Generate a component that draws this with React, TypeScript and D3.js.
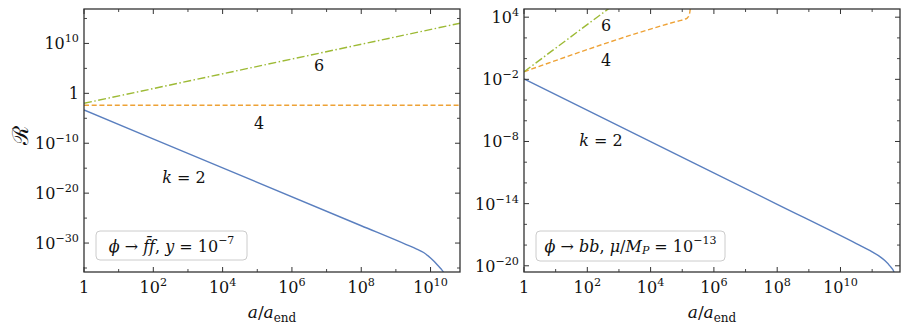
import React from "react";
import * as d3 from "d3";

// ---- data (log10 values) ----
// Left panel: phi -> f fbar, y = 1e-7
const leftK2LogA = [0, 4, 8, 9.3, 9.6, 9.8, 10.0, 10.1, 10.2, 10.3, 10.37, 10.42];
const leftK2LogR = [-3.33, -14.93, -26.53, -30.3, -31.2, -31.9, -33.0, -33.65, -34.4, -35.15, -35.8, -36.5];
const leftK4LogA = [0, 10.85];
const leftK4LogR = [-2.38, -2.38];
const leftK6LogA = [0, 10.85];
const leftK6LogR = [-2.0, 14.05];

// Right panel: phi -> bb, mu/M_P = 1e-13
const rightK2LogA = [0, 4, 8, 10.5, 11.0, 11.2, 11.4, 11.55, 11.69, 11.73];
const rightK2LogR = [-1.95, -8.01, -14.07, -17.86, -18.65, -19.02, -19.5, -19.98, -20.6, -21.0];
const rightK4LogA = [0, 4.9, 5.08, 5.16, 5.21, 5.24, 5.26];
const rightK4LogR = [-1.27, 3.65, 3.8, 3.93, 4.15, 4.5, 5.0];
const rightK6LogA = [0, 3.0];
const rightK6LogR = [-1.27, 5.57];

// axes
const leftXDomain = [0, 10.85];
const leftYDomain = [-35.8, 16.9];
const rightXDomain = [0, 11.88];
const rightYDomain = [-20.6, 4.79];
const leftXMajor = [0, 2, 4, 6, 8, 10];
const leftXMinor = [1, 3, 5, 7, 9];
const leftYMajor = [10, 0, -10, -20, -30];
const leftYMinor = [15, 5, -5, -15, -25, -35];
const rightXMajor = [0, 2, 4, 6, 8, 10];
const rightXMinor = [1, 3, 5, 7, 9, 11];
const rightYMajor = [4, -2, -8, -14, -20];
const rightYMinor = [2, 0, -4, -6, -10, -12, -16, -18];

const BLUE = "#5a7fbf";
const ORANGE = "#eea236";
const GREEN = "#9dba35";
const FONT = "DejaVu Serif";

type Series = { la: number[]; lr: number[]; color: string; dash?: string };

function Pow({ e, x, y, anchor, size = 16 }: { e: number; x: number; y: number; anchor: string; size?: number }) {
  if (e === 0)
    return (
      <text x={x} y={y} textAnchor={anchor} style={{ fontSize: size, fontFamily: FONT }} fill="#111">
        1
      </text>
    );
  const s = e < 0 ? "\u2212" + Math.abs(e) : String(e);
  return (
    <text x={x} y={y} textAnchor={anchor} style={{ fontSize: size, fontFamily: FONT }} fill="#111">
      10
      <tspan dy={-7} style={{ fontSize: size * 0.7 }}>
        {s}
      </tspan>
    </text>
  );
}

function Panel(props: {
  id: string;
  x0: number;
  x1: number;
  y0: number;
  y1: number;
  xDom: number[];
  yDom: number[];
  xMaj: number[];
  xMin: number[];
  yMaj: number[];
  yMin: number[];
  series: Series[];
  children?: React.ReactNode;
}) {
  const { id, x0, x1, y0, y1 } = props;
  const xs = d3.scaleLog().domain(props.xDom.map((v) => Math.pow(10, v))).range([x0, x1]);
  const ys = d3.scaleLog().domain(props.yDom.map((v) => Math.pow(10, v))).range([y1, y0]);
  const line = d3
    .line<[number, number]>()
    .x((d) => xs(Math.pow(10, d[0])))
    .y((d) => ys(Math.pow(10, d[1])))
    .curve(d3.curveMonotoneX);
  const tk = "#333";
  const maj = 5;
  const mn = 3;
  return (
    <g>
      <defs>
        <clipPath id={id}>
          <rect x={x0} y={y0} width={x1 - x0} height={y1 - y0} />
        </clipPath>
      </defs>
      <g clipPath={`url(#${id})`}>
        {props.series.map((s, i) => (
          <path
            key={i}
            d={line(s.la.map((a, j) => [a, s.lr[j]] as [number, number])) || ""}
            fill="none"
            stroke={s.color}
            strokeWidth={1.4}
            strokeDasharray={s.dash}
          />
        ))}
      </g>
      {props.children}
      {props.xMaj.map((v) => {
        const px = xs(Math.pow(10, v));
        return (
          <g key={"xM" + v}>
            <line x1={px} x2={px} y1={y1} y2={y1 - maj} stroke={tk} strokeWidth={1} />
            <line x1={px} x2={px} y1={y0} y2={y0 + maj} stroke={tk} strokeWidth={1} />
            <Pow e={v} x={px} y={293} anchor="middle" />
          </g>
        );
      })}
      {props.xMin.map((v) => {
        const px = xs(Math.pow(10, v));
        return (
          <g key={"xm" + v}>
            <line x1={px} x2={px} y1={y1} y2={y1 - mn} stroke={tk} strokeWidth={0.9} />
            <line x1={px} x2={px} y1={y0} y2={y0 + mn} stroke={tk} strokeWidth={0.9} />
          </g>
        );
      })}
      {props.yMaj.map((v) => {
        const py = ys(Math.pow(10, v));
        return (
          <g key={"yM" + v}>
            <line x1={x0} x2={x0 + maj} y1={py} y2={py} stroke={tk} strokeWidth={1} />
            <line x1={x1} x2={x1 - maj} y1={py} y2={py} stroke={tk} strokeWidth={1} />
            <Pow e={v} x={x0 - 5} y={py + 6} anchor="end" />
          </g>
        );
      })}
      {props.yMin.map((v) => {
        const py = ys(Math.pow(10, v));
        return (
          <g key={"ym" + v}>
            <line x1={x0} x2={x0 + mn} y1={py} y2={py} stroke={tk} strokeWidth={0.9} />
            <line x1={x1} x2={x1 - mn} y1={py} y2={py} stroke={tk} strokeWidth={0.9} />
          </g>
        );
      })}
      <rect x={x0} y={y0} width={x1 - x0} height={y1 - y0} fill="none" stroke={tk} strokeWidth={1.3} />
      <text x={(x0 + x1) / 2} y={318} textAnchor="middle" style={{ fontSize: 17, fontFamily: FONT }} fill="#111">
        <tspan fontStyle="italic">a</tspan>/<tspan fontStyle="italic">a</tspan>
        <tspan dy={4} style={{ fontSize: 12 }}>
          end
        </tspan>
      </text>
    </g>
  );
}

function Label({ x, y, children, size = 16 }: { x: number; y: number; children: React.ReactNode; size?: number }) {
  return (
    <text
      x={x}
      y={y}
      textAnchor="middle"
      dominantBaseline="central"
      style={{ fontSize: size, fontFamily: FONT }}
      fill="#111"
    >
      {children}
    </text>
  );
}

export default function App() {
  return (
    <svg width={909} height={333} style={{ position: "absolute", left: 0, top: 0, background: "#fff" }}>
      <rect width={909} height={333} fill="#fff" />
      <Panel
        id="cl"
        x0={84}
        x1={460}
        y0={9}
        y1={272}
        xDom={leftXDomain}
        yDom={leftYDomain}
        xMaj={leftXMajor}
        xMin={leftXMinor}
        yMaj={leftYMajor}
        yMin={leftYMinor}
        series={[
          { la: leftK2LogA, lr: leftK2LogR, color: BLUE },
          { la: leftK4LogA, lr: leftK4LogR, color: ORANGE, dash: "5,2.7" },
          { la: leftK6LogA, lr: leftK6LogR, color: GREEN, dash: "8,2.5,1.5,2.5" },
        ]}
      >
        <Label x={319} y={65}>6</Label>
        <Label x={259} y={123}>4</Label>
        <Label x={184} y={177}>
          <tspan fontStyle="italic">k</tspan> = 2
        </Label>
        <rect x={96} y={231} width={151} height={29} rx={4} fill="#fff" stroke="#ccc" strokeWidth={1} />
        <Label x={171.5} y={246} size={16}>
          <tspan fontStyle="italic">ϕ</tspan>
          {" → "}
          <tspan fontStyle="italic">f̄f</tspan>
          {",  "}
          <tspan fontStyle="italic">y</tspan>
          {" = 10"}
          <tspan dy={-6} style={{ fontSize: 11 }}>−7</tspan>
        </Label>
      </Panel>
      <Panel
        id="cr"
        x0={524}
        x1={900}
        y0={9}
        y1={272}
        xDom={rightXDomain}
        yDom={rightYDomain}
        xMaj={rightXMajor}
        xMin={rightXMinor}
        yMaj={rightYMajor}
        yMin={rightYMinor}
        series={[
          { la: rightK2LogA, lr: rightK2LogR, color: BLUE },
          { la: rightK4LogA, lr: rightK4LogR, color: ORANGE, dash: "5,2.7" },
          { la: rightK6LogA, lr: rightK6LogR, color: GREEN, dash: "8,2.5,1.5,2.5" },
        ]}
      >
        <Label x={606} y={25}>6</Label>
        <Label x={606} y={60}>4</Label>
        <Label x={601} y={140}>
          <tspan fontStyle="italic">k</tspan> = 2
        </Label>
        <rect x={536} y={231} width={189} height={30} rx={4} fill="#fff" stroke="#ccc" strokeWidth={1} />
        <Label x={630.5} y={246} size={16}>
          <tspan fontStyle="italic">ϕ</tspan>
          {" → "}
          <tspan fontStyle="italic">bb</tspan>
          {",  "}
          <tspan fontStyle="italic">μ</tspan>/<tspan fontStyle="italic">M</tspan>
          <tspan dy={4} style={{ fontSize: 11 }} fontStyle="italic">P</tspan>
          <tspan dy={-4}> = 10</tspan>
          <tspan dy={-6} style={{ fontSize: 11 }}>−13</tspan>
        </Label>
      </Panel>
      <text
        transform="translate(20,135) rotate(-90)"
        textAnchor="middle"
        dominantBaseline="central"
        style={{ fontSize: 22, fontFamily: "DejaVu Serif" }}
        fill="#111"
      >
        ℛ
      </text>
    </svg>
  );
}
